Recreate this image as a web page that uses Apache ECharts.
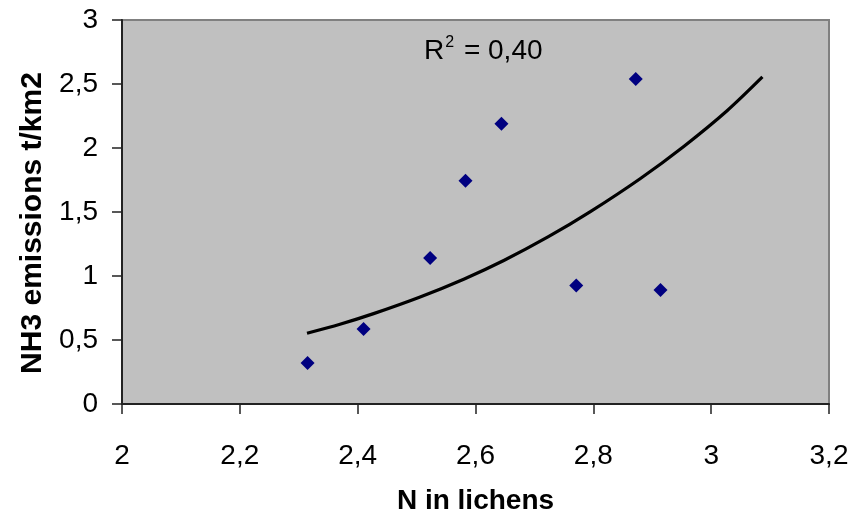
<!DOCTYPE html>
<html>
<head>
<meta charset="utf-8">
<script src="https://cdn.jsdelivr.net/npm/echarts@6/dist/echarts.min.js"></script>
<style>
  html, body { margin: 0; padding: 0; background: #fff; }
  #chart { width: 854px; height: 520px; }
</style>
</head>
<body>
<div id="chart"></div>
<script>
// Measured samples: nitrogen in lichens vs NH3 emissions
const lichenN = [2.315, 2.410, 2.523, 2.583, 2.644, 2.771, 2.872, 2.914];
const nh3Emissions = [0.32, 0.585, 1.14, 1.745, 2.19, 0.925, 2.54, 0.89];

// Exponential trendline, sampled along its course
const trendN = [2.314, 2.370, 2.427, 2.506, 2.580, 2.648, 2.723, 2.795, 2.880, 2.954, 3.027, 3.087];
const trendNH3 = [0.553, 0.623, 0.706, 0.836, 0.975, 1.121, 1.305, 1.503, 1.762, 2.014, 2.291, 2.555];

// Axis tick labels (decimal comma)
const xTickLabels = ['2', '2,2', '2,4', '2,6', '2,8', '3', '3,2'];
const yTickLabels = ['0', '0,5', '1', '1,5', '2', '2,5', '3'];

const rSquaredText = '0,40';

const FONT = '"Liberation Sans", Arial, sans-serif';

const chart = echarts.init(document.getElementById('chart'), null, { renderer: 'canvas' });

chart.setOption({
  animation: false,
  backgroundColor: '#ffffff',
  title: {
    text: '{a|R}{sup|2}{a| = ' + rSquaredText + '}',
    left: 419,
    top: 30,
    textStyle: {
      fontWeight: 'normal',
      rich: {
        a: { fontFamily: FONT, fontSize: 28, fontWeight: 'normal', color: '#000', verticalAlign: 'bottom', lineHeight: 30 },
        sup: { fontFamily: FONT, fontSize: 16, fontWeight: 'normal', color: '#000', verticalAlign: 'top', lineHeight: 30, padding: [0, 2, 12, 1] }
      }
    }
  },
  grid: {
    left: 122,
    right: 25,
    top: 20,
    bottom: 110,
    show: true,
    backgroundColor: '#C0C0C0',
    borderColor: '#808080',
    borderWidth: 2
  },
  xAxis: {
    type: 'value',
    min: 2,
    max: 3.2,
    interval: 0.2,
    name: 'N in lichens',
    nameLocation: 'middle',
    nameGap: 83,
    nameTextStyle: { fontFamily: FONT, fontSize: 28, fontWeight: 'bold', color: '#000' },
    axisLine: { show: true, onZero: false, lineStyle: { color: '#222', width: 2 } },
    axisTick: { show: true, inside: false, length: 10, lineStyle: { color: '#222', width: 1.5 } },
    axisLabel: {
      margin: 38,
      fontFamily: FONT,
      fontSize: 28,
      color: '#000',
      formatter: function (v) { return xTickLabels[Math.round((v - 2) / 0.2)]; }
    },
    splitLine: { show: false }
  },
  yAxis: {
    type: 'value',
    min: 0,
    max: 3,
    interval: 0.5,
    name: 'NH3 emissions t/km2',
    nameLocation: 'middle',
    nameGap: 74,
    nameRotate: 90,
    nameTextStyle: { fontFamily: FONT, fontSize: 30, fontWeight: 'bold', color: '#000', padding: [0, 0, 0, -22] },
    axisLine: { show: true, onZero: false, lineStyle: { color: '#222', width: 2 } },
    axisTick: { show: true, inside: false, length: 10, lineStyle: { color: '#222', width: 1.5 } },
    axisLabel: {
      margin: 24,
      fontFamily: FONT,
      fontSize: 28,
      color: '#000',
      formatter: function (v) { return yTickLabels[Math.round(v / 0.5)]; }
    },
    splitLine: { show: false }
  },
  series: [
    {
      type: 'line',
      name: 'trend',
      data: trendN.map((x, i) => [x, trendNH3[i]]),
      smooth: 0.3,
      showSymbol: false,
      symbol: 'none',
      lineStyle: { color: '#000', width: 3.2 },
      z: 2
    },
    {
      type: 'scatter',
      name: 'samples',
      data: lichenN.map((x, i) => [x, nh3Emissions[i]]),
      symbol: 'diamond',
      symbolSize: [14, 14],
      itemStyle: { color: '#000080', opacity: 1 },
      z: 3
    }
  ]
});
</script>
</body>
</html>
